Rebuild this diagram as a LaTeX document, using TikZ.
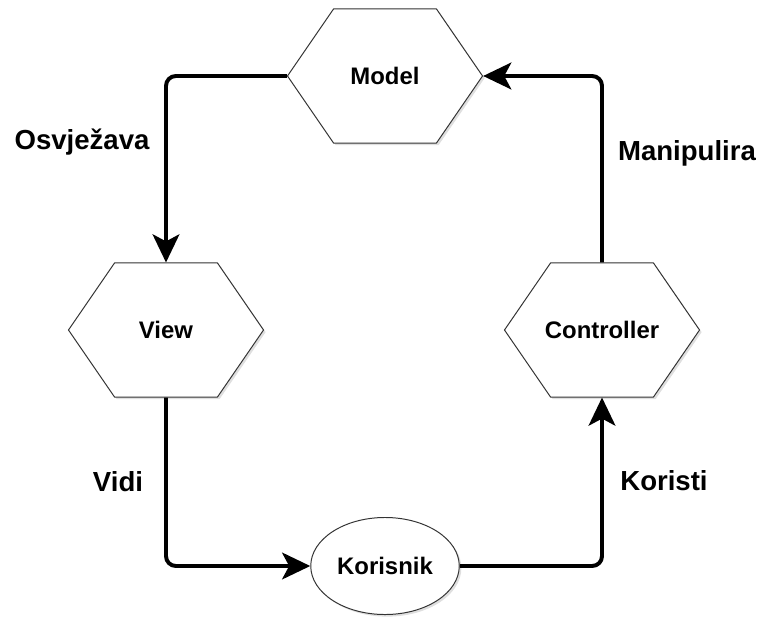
\documentclass[tikz,border=0pt]{standalone}
\usepackage{fontspec}
\setmainfont{Liberation Sans}
\usetikzlibrary{shapes.geometric, shapes.symbols, arrows.meta, shadows}
\tikzstyle{hexa} = [signal, signal to=west and east, signal pointer angle=111, minimum width=4.875cm, minimum height=3.35cm, inner xsep=0pt, draw=black!80, line width=0.7pt, fill=white, drop shadow={shadow xshift=1.5pt, shadow yshift=-1.5pt, opacity=0.25}, font=\fontsize{17}{20}\selectfont\bfseries]
\tikzstyle{user} = [ellipse, minimum width=3.625cm, minimum height=2.425cm, draw=black!80, line width=0.7pt, fill=white, drop shadow={shadow xshift=1.5pt, shadow yshift=-1.5pt, opacity=0.25}, font=\fontsize{17}{20}\selectfont\bfseries]
\tikzstyle{arrow} = [line width=2.8pt, -{Stealth[length=20pt, width=19pt, inset=5pt]}, rounded corners=7pt]
\tikzstyle{lbl} = [font=\fontsize{19.6}{23}\selectfont\bfseries]

\begin{document}
\begin{tikzpicture}[x=0.025cm, y=-0.025cm]
        \useasboundingbox (0,0) rectangle (760,616);
        % MVC parts
        \node (model) [hexa] at (385,76) {Model};
        \node (view) [hexa] at (166,330) {View};
        \node (ctrl) [hexa] at (602,330) {\makebox[2.4cm]{Controller}};
        \node (user) [user] at (385,566) {Korisnik};

        % Labels next to the arrows
        \node (osv) [lbl] at (82,142) {Osvježava};
        \node (man) [lbl] at (687,153) {Manipulira};
        \node (vidi) [lbl] at (118,482) {Vidi};
        \node (kor) [lbl] at (664,481) {Koristi};

        % Arrows
        \draw[arrow] (model.west) -| (view.north);
        \draw[arrow] (view.south) |- (user.west);
        \draw[arrow] (user.east) -| (ctrl.south);
        \draw[arrow] (ctrl.north) |- (model.east);
    \end{tikzpicture}
\end{document}
